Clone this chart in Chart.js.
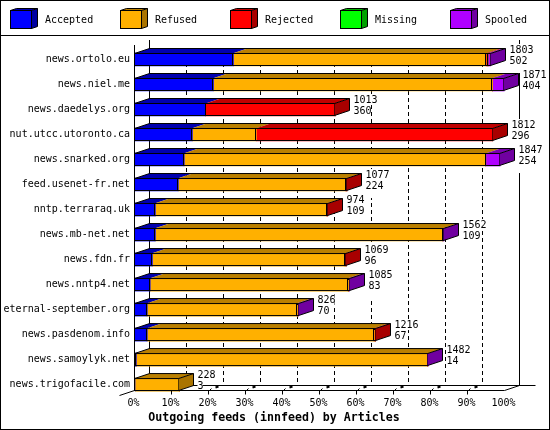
<!DOCTYPE html>
<html>
<head>
<meta charset="utf-8">
<style>
  body { margin: 0; background: #fff; }
  #wrap { width: 550px; height: 430px; }
</style>
</head>
<body>
<div id="wrap"><canvas id="feeds" width="550" height="430"></canvas></div>
<script src="https://cdn.jsdelivr.net/npm/chart.js@4"></script>
<script>
const hosts = ['news.ortolo.eu','news.niel.me','news.daedelys.org','nut.utcc.utoronto.ca','news.snarked.org','feed.usenet-fr.net','nntp.terraraq.uk','news.mb-net.net','news.fdn.fr','news.nntp4.net','eternal-september.org','news.pasdenom.info','news.samoylyk.net','news.trigofacile.com'];

// percent of the biggest feed
const accepted = [26.6, 21.2, 19.1, 15.5, 13.3, 11.7, 5.5, 5.5, 4.7, 4.1, 3.3, 3.3, 0.35, 0];
const refused  = [68.3, 75.4, 0, 17.3, 81.5, 45.3, 46.3, 77.7, 52.1, 53.6, 40.6, 61.4, 78.75, 12.0];
const rejected = [0.5, 0, 35.0, 63.9, 0, 0.3, 0.3, 0, 0.3, 0, 0, 0.3, 0, 0];
const missing  = [0, 0, 0, 0, 0, 0, 0, 0, 0, 0, 0, 0, 0, 0];
const spooled  = [0.7, 3.2, 0, 0, 3.9, 0, 0, 0.3, 0, 0.3, 0.3, 0, 0.2, 0];

const totals = [1803, 1871, 1013, 1812, 1847, 1077, 974, 1562, 1069, 1085, 826, 1216, 1482, 228];
const counts = [502, 404, 360, 296, 254, 224, 109, 109, 96, 83, 70, 67, 14, 3];
const xTicks = [0, 10, 20, 30, 40, 50, 60, 70, 80, 90, 100];

const seriesNames = ['Accepted', 'Refused', 'Rejected', 'Missing', 'Spooled'];
const seriesData = [accepted, refused, rejected, missing, spooled];
const front = ['#0000ff', '#ffb000', '#ff0000', '#00ff00', '#b000ff'];
const topFace = ['#0000b0', '#bb8000', '#c00000', '#00b000', '#7a00b0'];
const sideFace = ['#0000a0', '#aa7400', '#a80000', '#00a000', '#7000a0'];

const monoFont = '"DejaVu Sans Mono", monospace';
const depthX = 15;
const depthY = 5;
const floorY = 390.5;

const crisp = (v) => Math.round(v - 1) + 0.5;

const line = (ctx, x1, y1, x2, y2) => {
    ctx.beginPath();
    ctx.moveTo(x1, y1);
    ctx.lineTo(x2, y2);
    ctx.stroke();
};

const poly = (ctx, pts, fill) => {
    ctx.beginPath();
    pts.forEach((p, i) => i ? ctx.lineTo(p[0], p[1]) : ctx.moveTo(p[0], p[1]));
    ctx.closePath();
    ctx.fillStyle = fill;
    ctx.fill();
};

// walls, dashed grid and the legend go under the bars
const wallsPlugin = {
    id: 'walls',
    beforeDraw(chart) {
        // y labels are wider than the axis box, stop them being clipped
        chart.scales.y.left = 0;
    },
    beforeDatasetsDraw(chart) {
        const ctx = chart.ctx;
        const x = chart.scales.x;
        ctx.save();
        ctx.strokeStyle = '#000';
        ctx.lineWidth = 1;
        ctx.strokeRect(0.5, 0.5, 549, 429);
        line(ctx, 0, 35.5, 550, 35.5);

        seriesNames.forEach((name, i) => {
            const left = 10.5 + 110 * i;
            poly(ctx, [[left + 21, 10.5], [left + 27, 8.5], [left + 27, 26.5], [left + 21, 28.5]], sideFace[i]);
            poly(ctx, [[left, 10.5], [left + 6, 8.5], [left + 27, 8.5], [left + 21, 10.5]], topFace[i]);
            ctx.fillStyle = front[i];
            ctx.fillRect(left, 10.5, 21, 18);
            ctx.strokeRect(left, 10.5, 21, 18);
            ctx.beginPath();
            ctx.moveTo(left, 10.5);
            ctx.lineTo(left + 6, 8.5);
            ctx.lineTo(left + 27, 8.5);
            ctx.lineTo(left + 27, 26.5);
            ctx.lineTo(left + 21, 28.5);
            ctx.moveTo(left + 21, 10.5);
            ctx.lineTo(left + 27, 8.5);
            ctx.stroke();
            ctx.fillStyle = '#000';
            ctx.font = '10px ' + monoFont;
            ctx.textAlign = 'left';
            ctx.textBaseline = 'middle';
            ctx.fillText(name, left + 34.5, 20.5);
        });

        const backLeft = crisp(x.getPixelForValue(0)) + depthX;
        const backRight = crisp(x.getPixelForValue(100)) + depthX;
        xTicks.slice(1, -1).forEach((v) => {
            const bx = crisp(x.getPixelForValue(v)) + depthX;
            ctx.setLineDash([4, 3]);
            line(ctx, bx, 49, bx, floorY - depthY);
            ctx.setLineDash([]);
        });
        line(ctx, backLeft, 40, backLeft, floorY - depthY);
        line(ctx, backRight, 40, backRight, floorY - depthY);
        line(ctx, backLeft, floorY - depthY, backRight + depthX + 1, floorY - depthY);
        line(ctx, crisp(x.getPixelForValue(0)), 45, crisp(x.getPixelForValue(0)), floorY);
        ctx.restore();
    },
    afterDatasetsDraw(chart) {
        const ctx = chart.ctx;
        const x = chart.scales.x;
        ctx.save();
        ctx.strokeStyle = '#000';
        ctx.lineWidth = 1;

        hosts.forEach((host, row) => {
            let rowLeft = null;
            let rowRight = null;
            let last = 0;
            let t = 0;
            let b = 0;
            seriesData.forEach((values, s) => {
                if (!values[row]) return;
                const bar = chart.getDatasetMeta(s).data[row];
                const x0 = crisp(Math.min(bar.x, bar.base));
                const x1 = crisp(Math.max(bar.x, bar.base));
                t = bar.y - bar.height / 2 + 0.5;
                b = bar.y + bar.height / 2 - 0.5;
                poly(ctx, [[x0, t], [x1, t], [x1 + depthX, t - depthY], [x0 + depthX, t - depthY]], topFace[s]);
                ctx.strokeRect(x0, t, x1 - x0, b - t);
                if (rowLeft === null) rowLeft = x0;
                rowRight = x1;
                last = s;
            });
            poly(ctx, [[rowRight, t], [rowRight + depthX, t - depthY], [rowRight + depthX, b - depthY], [rowRight, b]], sideFace[last]);
            ctx.beginPath();
            ctx.moveTo(rowLeft, t);
            ctx.lineTo(rowLeft + depthX, t - depthY);
            ctx.lineTo(rowRight + depthX, t - depthY);
            ctx.lineTo(rowRight + depthX, b - depthY);
            ctx.lineTo(rowRight, b);
            ctx.moveTo(rowRight, t);
            ctx.lineTo(rowRight + depthX, t - depthY);
            ctx.stroke();

            // the two numbers beside each bar, on white so the grid stops behind them
            const tx = rowRight + depthX + 4;
            const rows = [[String(totals[row]), t - 3.5, 11], [String(counts[row]), t + 7.5, 18]];
            ctx.font = '10px ' + monoFont;
            ctx.textAlign = 'left';
            ctx.textBaseline = 'middle';
            rows.forEach((r) => {
                ctx.fillStyle = '#fff';
                ctx.fillRect(tx, r[1] - 6, ctx.measureText(r[0]).width - 1, r[2]);
            });
            rows.forEach((r) => {
                ctx.fillStyle = '#000';
                ctx.fillText(r[0], tx, r[1]);
            });
        });

        // floor: front line, its slanted ends and the broken slants at each tick
        const zero = crisp(x.getPixelForValue(0));
        const full = crisp(x.getPixelForValue(100));
        line(ctx, zero, floorY, full, floorY);
        line(ctx, zero - 15, floorY + 5, zero, floorY);
        line(ctx, full, floorY, full + depthX, floorY - depthY);
        xTicks.slice(1, -1).forEach((v) => {
            const fx = crisp(x.getPixelForValue(v));
            line(ctx, fx, floorY + 4, fx, floorY);
            if (v < 20) return;
            line(ctx, fx, floorY + 1, fx + 3, floorY - 2);
            ctx.lineWidth = 2;
            line(ctx, fx + 7, floorY - 3, fx + 10, floorY - 4);
            ctx.lineWidth = 1;
        });
        ctx.restore();
    }
};

new Chart(document.querySelector('#feeds').getContext('2d'), {
    type: 'bar',
    data: {
        labels: hosts,
        datasets: seriesNames.map((name, i) => ({
            label: name,
            data: seriesData[i],
            backgroundColor: front[i],
            borderWidth: 0,
            barThickness: 13
        }))
    },
    options: {
        indexAxis: 'y',
        responsive: false,
        animation: false,
        // left padding keeps the title centred near x=274, y labels overflow it on purpose
        layout: { padding: { top: 47, right: 45, left: 43, bottom: 0 } },
        plugins: {
            legend: { display: false },
            tooltip: { enabled: false },
            title: {
                display: true,
                text: 'Outgoing feeds (innfeed) by Articles',
                position: 'bottom',
                color: '#000',
                font: { family: monoFont, size: 11.6, weight: 'bold' },
                padding: { top: 1, bottom: 5 }
            }
        },
        scales: {
            x: {
                stacked: true,
                min: 0,
                max: 100,
                grid: { display: false, drawTicks: false },
                border: { display: false },
                afterFit: (s) => { s.height = 13; },
                ticks: {
                    stepSize: 10,
                    autoSkip: false,
                    maxRotation: 0,
                    padding: 0,
                    labelOffset: -1.5,
                    color: '#000',
                    font: { family: monoFont, size: 10 },
                    callback: (v) => v + '%'
                }
            },
            y: {
                stacked: true,
                grid: { display: false, drawTicks: false },
                border: { display: false },
                afterFit: (s) => { s.width = 92; },
                ticks: {
                    autoSkip: false,
                    padding: 5,
                    color: '#000',
                    font: { family: monoFont, size: 10 }
                }
            }
        }
    },
    plugins: [wallsPlugin]
});
</script>
</body>
</html>
